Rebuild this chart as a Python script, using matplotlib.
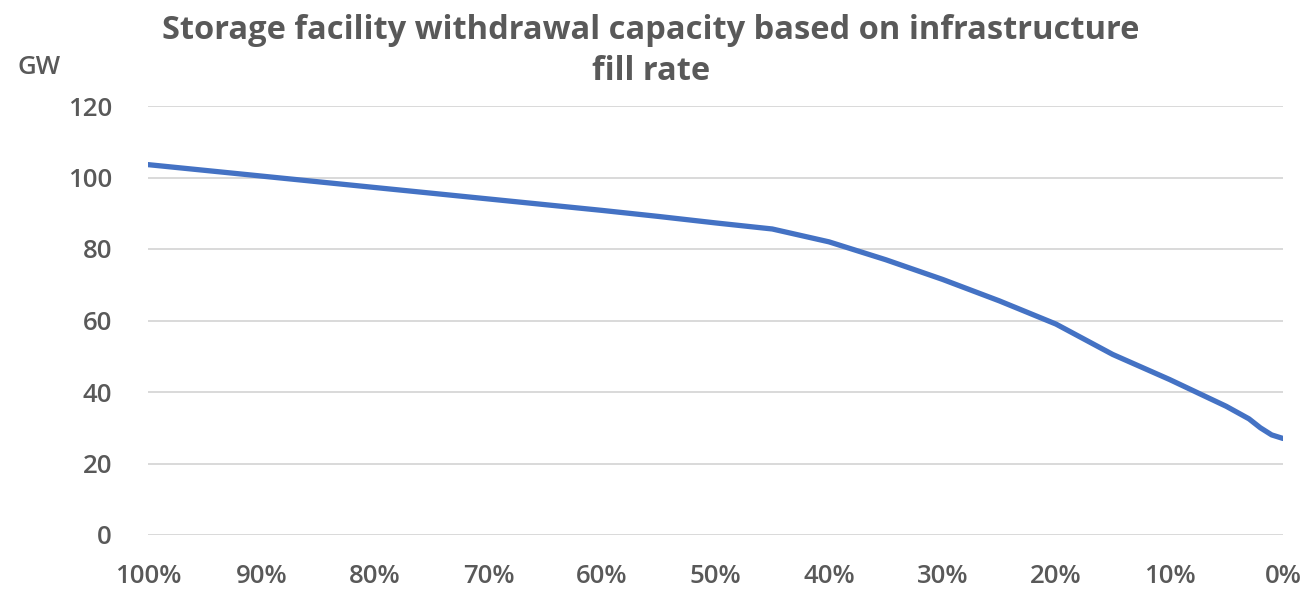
import matplotlib.pyplot as plt
from matplotlib.ticker import FuncFormatter

# fill rate of the storage infrastructure (%) and matching withdrawal capacity (GW)
fill_rate = [100, 95, 90, 85, 80, 75, 70, 65, 60, 55, 50, 45, 40, 35, 30, 25, 20, 15, 10, 5, 3, 2, 1, 0]
capacity_gw = [103.6, 102.0, 100.4, 98.8, 97.2, 95.6, 94.0, 92.4, 90.8, 89.1, 87.3, 85.6, 82.0,
               77.0, 71.5, 65.5, 59.0, 50.5, 43.5, 36.0, 32.5, 30.0, 28.0, 27.0]

y_ticks = [0, 20, 40, 60, 80, 100, 120]
x_ticks = [100, 90, 80, 70, 60, 50, 40, 30, 20, 10, 0]

title = "Storage facility withdrawal capacity based on infrastructure\nfill rate"
text_grey = "#595959"

plt.rcParams["font.family"] = ["Open Sans", "DejaVu Sans"]

fig = plt.figure(figsize=(13.06, 5.89), dpi=100)
ax = fig.add_axes([148 / 1306, 1 - 535 / 589, (1283 - 148) / 1306, (535 - 106) / 589])

ax.plot(fill_rate, capacity_gw, color="#4472c4", lw=3.8, solid_capstyle="round",
        solid_joinstyle="round", zorder=3)

ax.set_xlim(100, 0)
ax.set_ylim(0, 120)
ax.set_yticks(y_ticks)
ax.set_xticks(x_ticks)
ax.xaxis.set_major_formatter(FuncFormatter(lambda v, _: f"{v:.0f}%"))

ax.grid(axis="y", color="#d9d9d9", lw=1.4)
ax.set_axisbelow(True)
for side in ax.spines.values():
    side.set_visible(False)
ax.tick_params(length=0, labelsize=18.5, labelcolor=text_grey)
ax.tick_params(axis="y", pad=26)
ax.tick_params(axis="x", pad=21)
for lbl in ax.get_xticklabels() + ax.get_yticklabels():
    lbl.set_fontweight("semibold")

fig.text(39 / 1306, 1 - 68 / 589, "GW", ha="center", va="center", fontsize=18.5,
         fontweight="semibold", color=text_grey)
fig.text(651 / 1306, 1 - 51 / 589, title, ha="center", va="center", fontsize=23.5,
         fontweight="bold", color=text_grey, linespacing=1.35)

fig.savefig("out.png", dpi=100, facecolor="white")
